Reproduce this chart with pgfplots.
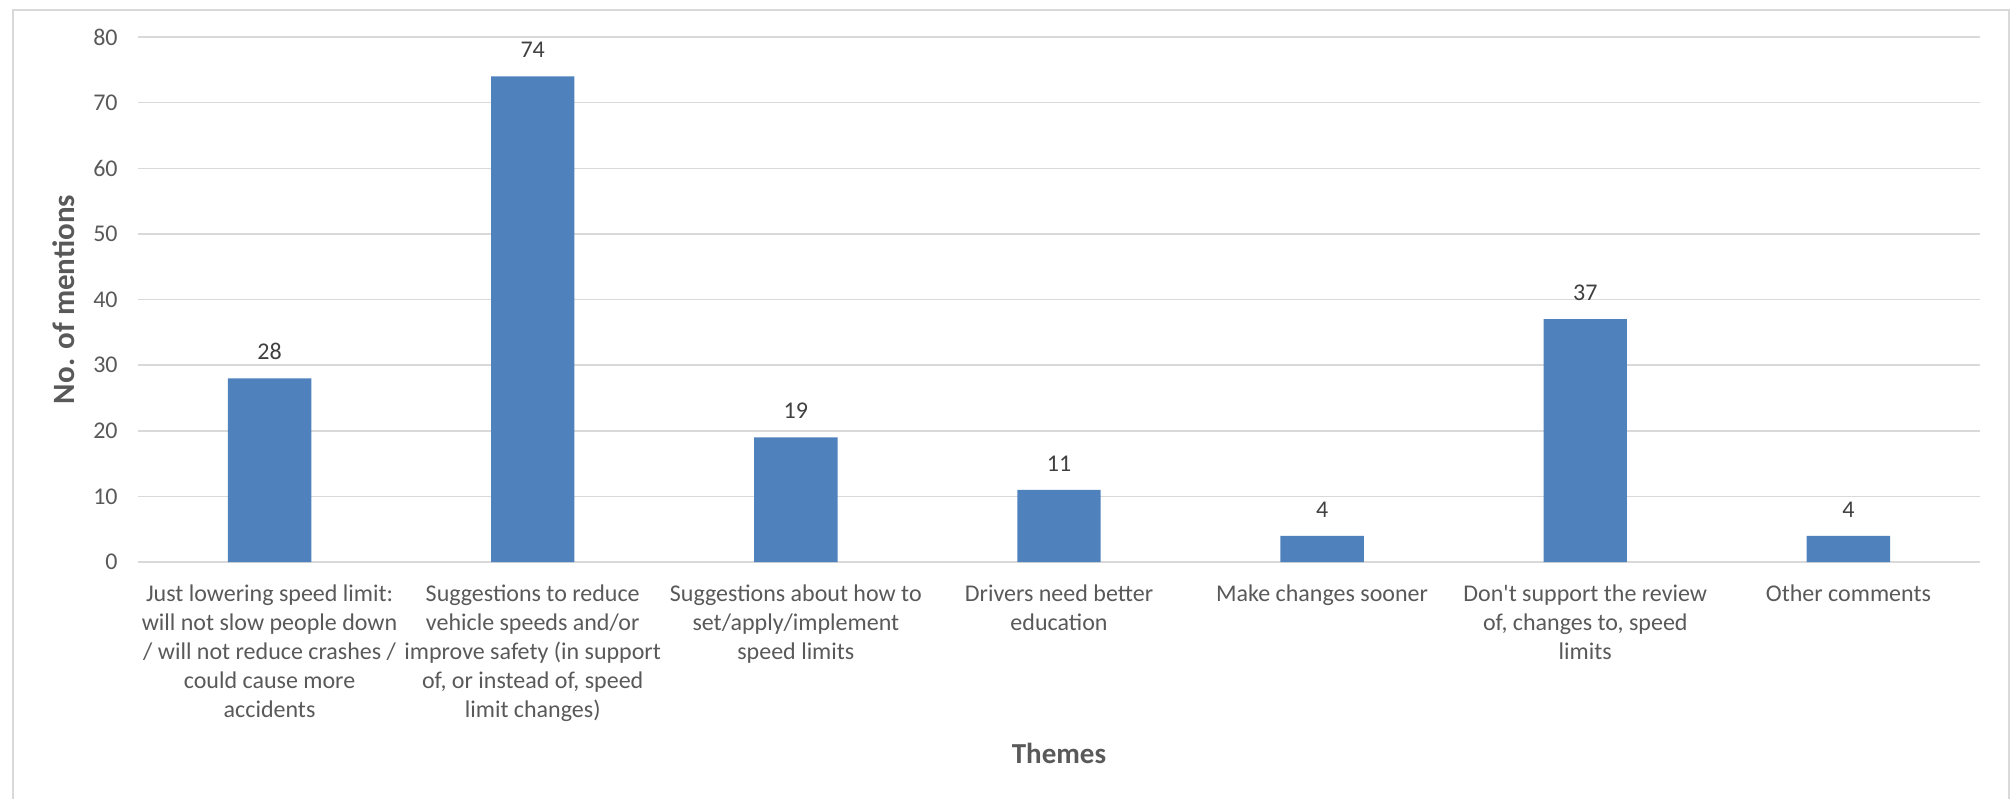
\documentclass[border=0pt]{standalone}
\usepackage{pgfplots}
\pgfplotsset{compat=1.18}
\usepackage{fontspec}
\setmainfont{Carlito}
\newfontfamily\plainfont{Carlito}[Ligatures=ResetAll]
\definecolor{barblue}{RGB}{79,129,189}
\definecolor{txtgray}{RGB}{89,89,89}
\definecolor{lbldark}{RGB}{64,64,64}
\definecolor{gridgray}{RGB}{217,217,217}
\definecolor{bordergray}{RGB}{217,217,217}
\begin{document}
\begin{tikzpicture}[x=1pt,y=1pt]
\useasboundingbox (-69,-118) rectangle (936.5,281);
\draw[bordergray, line width=1pt] (-62.5,-125) -- (-62.5,276) -- (935.5,276) -- (935.5,-125);
\begin{axis}[
  at={(0,0)}, anchor=south west,
  width=921pt, height=262.5pt, scale only axis,
  xmin=-0.5, xmax=6.5, ymin=0, ymax=80,
  ybar, bar width=41.7pt,
  axis line style={draw=none},
  major tick length=0pt,
  ytick={0,10,...,80},
  ymajorgrids,
  major grid style={gridgray, line width=0.75pt},
  xtick={0,1,2,3,4,5,6},
  xticklabels={
    {Just lowering speed limit:\\will not slow people down\\/ will not reduce crashes /\\could cause more\\accidents},
    {Suggestions to reduce\\vehicle speeds and/or\\improve safety (in support\\of, or instead of, speed\\limit changes)},
    {Suggestions about how to\\set/apply/implement\\speed limits},
    {Drivers need better\\education},
    {Make changes sooner},
    {Don{\plainfont'}t support the review\\of, changes to, speed\\limits},
    {Other comments}},
  xticklabel style={align=center, font=\fontsize{12}{14.5}\selectfont, text=txtgray, anchor=north, inner sep=0pt, yshift=-11pt},
  yticklabel style={font=\fontsize{12}{14.5}\selectfont, text=txtgray, anchor=east, inner sep=0pt, xshift=-10pt},
  /pgf/number format/assume math mode=true,
  ylabel={No. of mentions},
  ylabel style={font=\bfseries\fontsize{15.5}{18}\selectfont, text=txtgray, at={(axis description cs:-0.0402,0.5)}, anchor=center},
  xlabel={Themes},
  xlabel style={font=\bfseries\fontsize{14.5}{17}\selectfont, text=txtgray, at={(axis description cs:0.5,-0.3638)}, anchor=center},
  nodes near coords,
  every node near coord/.append style={font=\fontsize{12}{14.5}\selectfont, text=lbldark, anchor=south, inner sep=0pt, yshift=9pt},
]
\addplot[fill=barblue, draw=none] coordinates {(0,28) (1,74) (2,19) (3,11) (4,4) (5,37) (6,4)};
\end{axis}
\end{tikzpicture}
\end{document}
